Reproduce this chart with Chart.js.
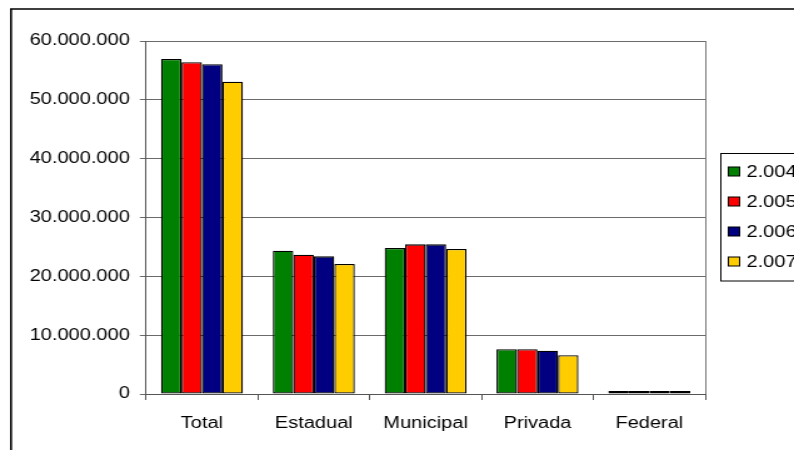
<!DOCTYPE html>
<html>
<head>
<meta charset="utf-8">
<script src="https://cdn.jsdelivr.net/npm/chart.js@4.4.1/dist/chart.umd.min.js"></script>
<style>
  html, body { margin: 0; padding: 0; background: #fff; overflow: hidden; }
  #wrap { width: 635px; height: 450px; transform: scaleX(1.2504); transform-origin: 0 0; }
  #grafico { display: block; }
</style>
</head>
<body>
<div id="wrap"><canvas id="grafico" width="635" height="450"></canvas></div>
<script>
// Matrículas por dependência administrativa, 2004-2007
const categorias = ['Total', 'Estadual', 'Municipal', 'Privada', 'Federal'];
const anos = ['2.004', '2.005', '2.006', '2.007'];
const matriculas2004 = [56940000, 24360000, 24820000, 7600000, 200000];
const matriculas2005 = [56380000, 23680000, 25440000, 7600000, 200000];
const matriculas2006 = [56040000, 23400000, 25440000, 7360000, 200000];
const matriculas2007 = [53090000, 22100000, 24650000, 6580000, 200000];
const yTicks = [0, 10000000, 20000000, 30000000, 40000000, 50000000, 60000000];

const cores = ['#008000', '#FF0000', '#000080', '#FFCC00'];
const series = [matriculas2004, matriculas2005, matriculas2006, matriculas2007];
const fonte = { family: "'Liberation Sans', Arial, sans-serif", size: 16 };

// format 60000000 -> 60.000.000
function pontos(v) {
  return String(v).replace(/\B(?=(\d{3})+(?!\d))/g, '.');
}

// outer frame, right edge of plot area and the legend box
const molduraPlugin = {
  id: 'moldura',
  afterDraw(chart) {
    const ctx = chart.ctx;
    const area = chart.chartArea;
    ctx.save();

    ctx.strokeStyle = '#000';
    ctx.lineWidth = 1.6;
    ctx.beginPath();
    ctx.moveTo(8.8, 460);
    ctx.lineTo(8.8, 9);
    ctx.lineTo(700, 9);
    ctx.stroke();

    ctx.strokeStyle = '#777';
    ctx.lineWidth = 1;
    ctx.beginPath();
    ctx.moveTo(area.right + 0.5, area.top);
    ctx.lineTo(area.right + 0.5, area.bottom);
    ctx.stroke();

    // legend
    const lx = 576.5, ly = 153.5, lh = 127.5;
    ctx.strokeStyle = '#000';
    ctx.lineWidth = 1;
    ctx.strokeRect(lx, ly, 120, lh);
    ctx.font = "16px 'Liberation Sans', Arial, sans-serif";
    ctx.textBaseline = 'middle';
    ctx.textAlign = 'left';
    const rows = [171.5, 201.5, 231.5, 261.5];
    chart.data.datasets.forEach((ds, i) => {
      const cy = rows[i];
      ctx.fillStyle = ds.backgroundColor;
      ctx.fillRect(582.5, cy - 4.5, 9, 9);
      ctx.strokeStyle = '#000';
      ctx.strokeRect(582.5, cy - 4.5, 9, 9);
      ctx.fillStyle = '#000';
      ctx.fillText(ds.label, 597, cy + 1);
    });
    ctx.restore();
  }
};

new Chart(document.getElementById('grafico'), {
  type: 'bar',
  data: {
    labels: categorias,
    datasets: series.map((dados, i) => ({
      label: anos[i],
      data: dados,
      backgroundColor: cores[i],
      borderColor: '#000',
      borderWidth: 1.3,
      borderSkipped: false,
      minBarLength: 3,
      categoryPercentage: 0.733,
      barPercentage: 1
    }))
  },
  options: {
    responsive: false,
    animation: false,
    devicePixelRatio: 1,
    layout: { padding: { top: 41, right: 71, left: 0, bottom: 0 } },
    plugins: {
      legend: { display: false },
      tooltip: { enabled: false }
    },
    scales: {
      x: {
        grid: { drawOnChartArea: false, drawTicks: true, tickLength: 6, color: '#555', offset: true },
        border: { color: '#555' },
        ticks: { color: '#000', font: fonte, padding: 14, maxRotation: 0 },
        afterFit(scale) { scale.height = 56; }
      },
      y: {
        min: 0,
        max: 60000000,
        afterBuildTicks(scale) { scale.ticks = yTicks.map(v => ({ value: v })); },
        grid: { color: '#6a6a6a', tickLength: 5 },
        border: { color: '#555' },
        ticks: { color: '#000', font: fonte, padding: 8, callback: v => pontos(v) },
        afterFit(scale) { scale.width = 116.8; }
      }
    }
  },
  plugins: [molduraPlugin]
});
</script>
</body>
</html>
